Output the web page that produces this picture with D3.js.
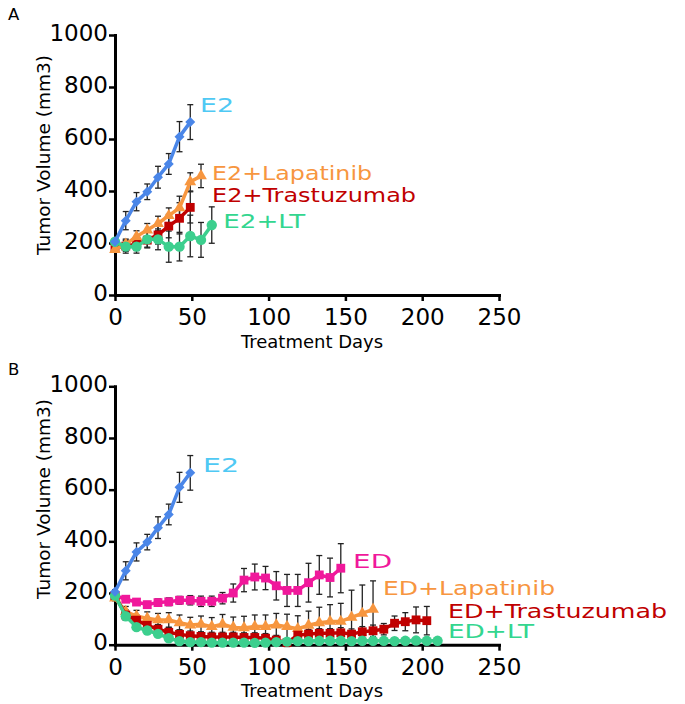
<!DOCTYPE html>
<html>
<head>
<meta charset="utf-8">
<script src="https://cdn.jsdelivr.net/npm/d3@7"></script>
<style>
  body { margin: 0; background: #fff; }
  text { font-family: "DejaVu Sans", sans-serif; }
</style>
</head>
<body>
<svg id="chart" width="685" height="704"></svg>
<script>
// ---- panel A data (days, mean volume, error) ----
var daysE2 = [0, 7, 14, 21, 28, 35, 42, 49];
var volE2 = [205, 286, 359, 397, 453, 504, 609, 665];
var errE2 = [8, 35, 35, 30, 42, 40, 58, 67];

var daysLapA = [0, 7, 14, 21, 28, 35, 42, 49, 56];
var volLapA = [175, 195, 225, 250, 275, 305, 335, 435, 458];
var errLapA = [10, 20, 22, 25, 28, 30, 45, 35, 45];

var daysTrasA = [0, 7, 14, 21, 28, 35, 42, 49];
var volTrasA = [180, 188, 196, 211, 231, 265, 295, 337];
var errTrasA = [10, 20, 25, 30, 35, 45, 60, 60];

var daysLTA = [0, 7, 14, 21, 28, 35, 42, 49, 56, 63];
var volLTA = [205, 186, 186, 214, 214, 186, 186, 227, 212, 269];
var errLTA = [10, 25, 25, 30, 40, 60, 55, 80, 67, 70];

// ---- panel B data ----
var daysED = [0, 7, 14, 21, 28, 35, 42, 49, 56, 63, 70, 77, 84, 91, 98, 105, 112, 119, 126, 133, 140, 147];
var volED = [190, 176, 165, 155, 163, 166, 172, 172, 168, 168, 180, 200, 250, 262, 258, 228, 210, 210, 240, 270, 260, 296];
var errED = [10, 12, 12, 12, 14, 15, 15, 18, 20, 20, 22, 35, 45, 50, 45, 55, 62, 62, 75, 75, 75, 95];

var daysLapB = [0, 7, 14, 21, 28, 35, 42, 49, 56, 63, 70, 77, 84, 91, 98, 105, 112, 119, 126, 133, 140, 147, 154, 161, 168];
var volLapB = [180, 128, 111, 102, 96, 96, 85, 76, 79, 70, 79, 67, 65, 70, 70, 76, 70, 62, 75, 85, 90, 90, 106, 121, 137];
var errLapB = [10, 20, 22, 25, 25, 28, 30, 30, 32, 35, 38, 40, 45, 45, 45, 45, 48, 50, 55, 60, 65, 70, 105, 110, 110];

var daysTrasB = [0, 7, 14, 21, 28, 35, 42, 49, 56, 63, 70, 77, 84, 91, 98, 105, 112, 119, 126, 133, 140, 147, 154, 161, 168, 175, 182, 189, 196, 203];
var volTrasB = [190, 115, 95, 75, 60, 48, 40, 35, 32, 30, 30, 30, 28, 28, 25, 18, 8, 37, 41, 44, 44, 46, 41, 50, 54, 60, 83, 89, 96, 93];
var errTrasB = [10, 20, 20, 20, 18, 18, 18, 18, 18, 18, 18, 18, 18, 18, 18, 18, 15, 18, 18, 18, 18, 20, 20, 20, 22, 22, 28, 35, 50, 55];

var daysLTB = [0, 7, 14, 21, 28, 35, 42, 49, 56, 63, 70, 77, 84, 91, 98, 105, 112, 119, 126, 133, 140, 147, 154, 161, 168, 175, 182, 189, 196, 203, 210];
var volLTB = [190, 110, 68, 55, 42, 25, 14, 10, 10, 8, 8, 8, 8, 7, 8, 10, 12, 14, 14, 15, 15, 15, 14, 15, 15, 15, 14, 15, 16, 15, 15];
var errLTB = [10, 15, 12, 10, 8, 6, 5, 5, 5, 5, 5, 5, 5, 5, 5, 5, 5, 6, 6, 6, 6, 6, 6, 6, 6, 6, 6, 6, 6, 6, 6];

var xTicks = [0, 50, 100, 150, 200, 250];
var yTicks = [0, 200, 400, 600, 800, 1000];

var blue = "#4a86e8", orange = "#f7963f", red = "#c00000", green = "#3ccf8e", magenta = "#f0189b";

var svg = d3.select("#chart");

var x = d3.scaleLinear().domain([0, 250]).range([115, 499]);
var yA = d3.scaleLinear().domain([0, 1000]).range([295, 35]);
var yB = d3.scaleLinear().domain([0, 1000]).range([644.7, 386.3]);

function makeSeries(days, vol, err, color, shape) {
  return { pts: days.map((d, i) => ({ d: d, v: vol[i], e: err[i] })), color: color, shape: shape };
}

function drawAxes(y, panelLetter, letterY, titleY, volTitleY) {
  var g = svg.append("g");

  var xAxis = g.append("g")
    .attr("transform", `translate(0, ${y(0)})`)
    .call(d3.axisBottom(x).tickValues(xTicks).tickFormat(d3.format("d"))
      .tickSizeInner(6).tickSizeOuter(0).tickPadding(8));
  var yAxis = g.append("g")
    .attr("transform", `translate(${x(0)}, 0)`)
    .call(d3.axisLeft(y).tickValues(yTicks).tickFormat(d3.format("d"))
      .tickSizeInner(6).tickSizeOuter(0).tickPadding(1));

  [xAxis, yAxis].forEach(function(a) {
    a.select(".domain").attr("stroke", "#000").attr("stroke-width", 3).attr("stroke-linecap", "square");
    a.selectAll(".tick line").attr("stroke", "#000").attr("stroke-width", 2.5);
    a.selectAll(".tick text").attr("fill", "#000")
      .style("font-family", '"DejaVu Sans", sans-serif').style("font-size", "23px");
  });
  yAxis.selectAll(".tick text").attr("dy", "0.22em");

  g.append("text")
    .attr("x", 312).attr("y", titleY)
    .attr("text-anchor", "middle")
    .style("font-size", "18px")
    .text("Treatment Days");

  g.append("text")
    .attr("transform", `translate(50, ${volTitleY}) rotate(-90)`)
    .attr("text-anchor", "middle")
    .style("font-size", "18.5px")
    .text("Tumor Volume (mm3)");

  g.append("text")
    .attr("x", 8).attr("y", letterY)
    .style("font-size", "16.5px")
    .text(panelLetter);
}

function drawSeries(y, list) {
  var g = svg.append("g");
  // error bars
  list.forEach(function(s) {
    var eb = g.selectAll(null).data(s.pts).enter().append("g")
      .attr("stroke", "#222").attr("stroke-width", 1.3);
    eb.append("line")
      .attr("x1", p => x(p.d)).attr("x2", p => x(p.d))
      .attr("y1", p => y(p.v + p.e)).attr("y2", p => y(p.v - p.e));
    eb.append("line")
      .attr("x1", p => x(p.d) - 3).attr("x2", p => x(p.d) + 3)
      .attr("y1", p => y(p.v + p.e)).attr("y2", p => y(p.v + p.e));
    eb.append("line")
      .attr("x1", p => x(p.d) - 3).attr("x2", p => x(p.d) + 3)
      .attr("y1", p => y(p.v - p.e)).attr("y2", p => y(p.v - p.e));
  });

  var line = d3.line().x(p => x(p.d)).y(p => y(p.v));
  list.forEach(function(s) {
    g.append("path")
      .datum(s.pts)
      .attr("fill", "none")
      .attr("stroke", s.color)
      .attr("stroke-width", 3.5)
      .attr("stroke-linejoin", "round")
      .attr("d", line);

    var sym = d3.symbol().type(s.shape.type).size(s.shape.size);
    g.selectAll(null).data(s.pts).enter().append("path")
      .attr("d", sym)
      .attr("fill", s.color)
      .attr("transform", p => `translate(${x(p.d)}, ${y(p.v)}) rotate(${s.shape.rot || 0})`);
  });
}

function drawLabels(y, labels) {
  svg.append("g").selectAll("text")
    .data(labels)
    .enter()
    .append("text")
    .attr("x", l => x(l.d))
    .attr("y", l => y(l.v))
    .attr("fill", l => l.color)
    .attr("textLength", l => l.w)
    .attr("lengthAdjust", "spacingAndGlyphs")
    .style("font-size", "19px")
    .text(l => l.text);
}

var diamond = { type: d3.symbolSquare, size: 50, rot: 45 };
var square = { type: d3.symbolSquare, size: 78 };
var triangle = { type: d3.symbolTriangle, size: 60 };
var circle = { type: d3.symbolCircle, size: 85 };

// ---- panel A ----
drawAxes(yA, "A", 20, 348, 155);
drawSeries(yA, [
  makeSeries(daysTrasA, volTrasA, errTrasA, red, square),
  makeSeries(daysLapA, volLapA, errLapA, orange, triangle),
  makeSeries(daysLTA, volLTA, errLTA, green, circle),
  makeSeries(daysE2, volE2, errE2, blue, diamond)
]);
drawLabels(yA, [
  { text: "E2", d: 55.3, v: 705, w: 34, color: "#4fc9f4" },
  { text: "E2+Lapatinib", d: 63.2, v: 442, w: 160, color: orange },
  { text: "E2+Trastuzumab", d: 63.2, v: 359, w: 204, color: red },
  { text: "E2+LT", d: 70.5, v: 258, w: 82, color: "#33d68f" }
]);

// ---- panel B ----
drawAxes(yB, "B", 375, 697, 499);
drawSeries(yB, [
  makeSeries(daysED, volED, errED, magenta, square),
  makeSeries(daysLapB, volLapB, errLapB, orange, triangle),
  makeSeries(daysTrasB, volTrasB, errTrasB, red, square),
  makeSeries(daysLTB, volLTB, errLTB, green, circle),
  makeSeries(daysE2, volE2, errE2, blue, diamond)
]);
drawLabels(yB, [
  { text: "E2", d: 57.3, v: 668, w: 36, color: "#4fc9f4" },
  { text: "ED", d: 155, v: 297, w: 39, color: magenta },
  { text: "ED+Lapatinib", d: 174.5, v: 192, w: 172, color: orange },
  { text: "ED+Trastuzumab", d: 216.8, v: 102, w: 219, color: red },
  { text: "ED+LT", d: 216.8, v: 25, w: 86, color: "#33d68f" }
]);
</script>
</body>
</html>
